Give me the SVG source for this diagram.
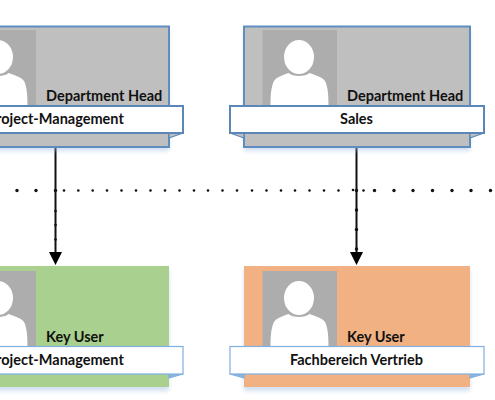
<svg xmlns="http://www.w3.org/2000/svg" width="495" height="400" viewBox="0 0 495 400">
<defs>
<filter id="sh" x="-10%" y="-10%" width="120%" height="125%"><feGaussianBlur stdDeviation="2"/></filter>
<g id="person"><rect x="0" y="0" width="74.500" height="76" fill="#adadad"/><ellipse cx="36.500" cy="27" rx="15" ry="17" fill="#fff"/><path d="M8 76C8 66 8.500 58 11 52C13 47 21 45 26 43C30 47 43 47 47 43C52 45 61 47 63 52C65.500 58 66 66 66 76Z" fill="#fff"/></g>
</defs>
<style>
text{font-family:"Lato","Open Sans","Liberation Sans",sans-serif;font-weight:700;font-size:14.500px;fill:#111}
.c{text-anchor:middle}
.shadow{fill:#9dbbe0;opacity:.45;filter:url(#sh)}
.head{stroke:#5f8dbf;stroke-width:2}
.gray{fill:#bfbfbf}
.rib{fill:#fff;stroke-width:2}
.rt{stroke:#5b86b8}
.rb{stroke:#7fb0e2;stroke-width:1.200}
.fold{stroke-linejoin:round;stroke-width:1.200}
.dot{fill:#111}
.line{stroke:#111;stroke-width:2;fill:none}
.arrow{fill:#000}
</style>
<g id="connectors">
<path class="line" d="M55.500 147V254M356.500 147V254"/>
<path class="arrow" d="M49 252H62L55.500 265ZM350 252H363L356.500 265Z"/>
<g class="dot">
<circle cx="-2" cy="190.500" r="1.700"/><circle cx="17" cy="190.500" r="1.700"/><circle cx="36" cy="190.500" r="1.700"/><circle cx="55.500" cy="190.500" r="1.700"/>
<circle cx="55.500" cy="211" r="1.300"/><circle cx="55.500" cy="225" r="1.300"/><circle cx="55.500" cy="239.500" r="1.300"/>
<circle cx="64" cy="190.500" r="1.300"/><circle cx="78.300" cy="190.500" r="1.300"/><circle cx="92.700" cy="190.500" r="1.300"/><circle cx="107" cy="190.500" r="1.300"/><circle cx="121.500" cy="190.500" r="1.300"/><circle cx="136" cy="190.500" r="1.300"/><circle cx="150.500" cy="190.500" r="1.300"/><circle cx="165" cy="190.500" r="1.300"/><circle cx="179.500" cy="190.500" r="1.300"/><circle cx="194" cy="190.500" r="1.300"/><circle cx="208" cy="190.500" r="1.300"/><circle cx="222.500" cy="190.500" r="1.300"/><circle cx="237" cy="190.500" r="1.300"/><circle cx="252" cy="190.500" r="1.300"/><circle cx="266.500" cy="190.500" r="1.300"/><circle cx="281" cy="190.500" r="1.300"/><circle cx="295" cy="190.500" r="1.300"/><circle cx="309.500" cy="190.500" r="1.300"/><circle cx="324" cy="190.500" r="1.300"/><circle cx="338.500" cy="190.500" r="1.300"/><circle cx="353" cy="190" r="1.300"/><circle cx="363.500" cy="190.500" r="1.300"/>
<circle cx="356.500" cy="190.500" r="1.700"/><circle cx="356.500" cy="210" r="1.700"/><circle cx="356.500" cy="229.500" r="1.700"/><circle cx="356.500" cy="249" r="1.700"/>
<circle cx="374.500" cy="190.500" r="1.700"/><circle cx="394" cy="190.500" r="1.700"/><circle cx="413" cy="190.500" r="1.700"/><circle cx="432.500" cy="190.500" r="1.700"/><circle cx="452" cy="190.500" r="1.700"/><circle cx="471" cy="190.500" r="1.700"/><circle cx="490.500" cy="190.500" r="1.700"/>
</g>
</g>
<g id="head-project">
<rect class="shadow" x="-57" y="30" width="226" height="121"/>
<rect class="gray head" x="-57" y="26.500" width="226" height="120.500"/>
<use href="#person" x="-38.500" y="30"/>
<text x="46" y="101">Department Head</text>
<path class="fold rt" fill="#bfbfbf" d="M183 133L169 138V133Z"/>
<rect class="rib rt" x="-71" y="106" width="254" height="27"/>
<text class="c" x="55.500" y="124">Project-Management</text>
</g>
<g id="head-sales">
<rect class="shadow" x="244" y="30" width="226" height="121"/>
<rect class="gray head" x="244" y="26.500" width="226" height="120.500"/>
<use href="#person" x="262.500" y="30"/>
<text x="347" y="101">Department Head</text>
<path class="fold rt" fill="#bfbfbf" d="M484 133L470 138V133ZM230 133L244 138V133Z"/>
<rect class="rib rt" x="230" y="106" width="254" height="27"/>
<text class="c" x="356.500" y="124">Sales</text>
</g>
<g id="keyuser-project">
<rect class="shadow" x="-57" y="270" width="226" height="121"/>
<rect fill="#a9d08e" x="-57" y="266" width="226" height="121"/>
<use href="#person" x="-38.500" y="271"/>
<text x="46" y="342">Key User</text>
<path class="fold rb" fill="#8fb4d8" d="M183 374L169 378V374Z"/>
<rect class="rib rb" x="-71" y="346.500" width="254" height="27.500"/>
<text class="c" x="55.500" y="365">Project-Management</text>
</g>
<g id="keyuser-vertrieb">
<rect class="shadow" x="244" y="270" width="226" height="121"/>
<rect fill="#f1b183" x="244" y="266" width="226" height="121"/>
<use href="#person" x="262.500" y="271"/>
<text x="347" y="342">Key User</text>
<path class="fold rb" fill="#8fb4d8" d="M484 374L470 378V374ZM230 374L244 378V374Z"/>
<rect class="rib rb" x="230" y="346.500" width="254" height="27.500"/>
<text class="c" x="356.500" y="365">Fachbereich Vertrieb</text>
</g>
</svg>
